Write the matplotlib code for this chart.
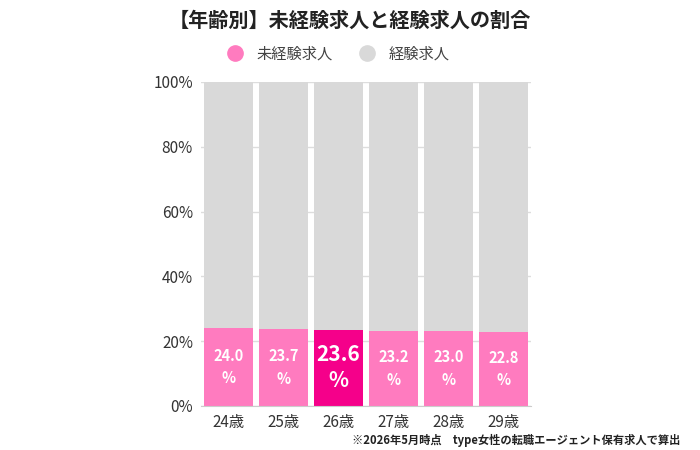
import matplotlib
matplotlib.use("Agg")
import matplotlib.pyplot as plt
from matplotlib.lines import Line2D

plt.rcParams['font.family'] = ['Noto Sans CJK JP', 'DejaVu Sans']

ages = ["24歳", "25歳", "26歳", "27歳", "28歳", "29歳"]
inexperienced = [24.0, 23.7, 23.6, 23.2, 23.0, 22.8]
experienced = [100 - v for v in inexperienced]
highlight_idx = 2
yticks = [0, 20, 40, 60, 80, 100]

pink = "#FF7BBF"
hot = "#F5008A"
gray = "#D9D9D9"

fig = plt.figure(figsize=(7, 4.5), dpi=100)
ax = fig.add_axes([201.3/700, 1 - 406/450, 329.5/700, 324/450])

x = list(range(len(ages)))
colors = [hot if i == highlight_idx else pink for i in x]
ax.bar(x, inexperienced, width=0.9, color=colors, zorder=2)
ax.bar(x, experienced, bottom=inexperienced, width=0.9, color=gray, zorder=2)

for i, v in enumerate(inexperienced):
    if i == highlight_idx:
        ax.text(i, v / 2, f"{v:.1f}\n%", ha="center", va="center", color="white",
                fontsize=15, fontweight="bold", linespacing=1.3, zorder=3)
    else:
        ax.text(i, v / 2, f"{v:.1f}\n%", ha="center", va="center", color="white",
                fontsize=10.5, fontweight="bold", linespacing=1.5, zorder=3)

ax.set_xlim(-0.5, len(ages) - 0.5)
ax.set_ylim(0, 100)
ax.set_yticks(yticks)
ax.set_yticklabels([f"{t}%" for t in yticks], fontsize=11, color="#333333")
ax.set_xticks(x)
ax.set_xticklabels(ages, fontsize=11, color="#333333")
ax.tick_params(length=0, pad=6)
ax.yaxis.grid(True, color="#DDDDDD", linewidth=1, zorder=0)
for s in ax.spines.values():
    s.set_visible(False)
ax.spines['bottom'].set_visible(True)
ax.spines['bottom'].set_color("#CCCCCC")

fig.text(0.5, 1 - 20/450, "【年齢別】未経験求人と経験求人の割合", ha="center", va="center",
         fontsize=14.5, fontweight="bold", color="#222222")

handles = [Line2D([], [], marker="o", linestyle="", markersize=11, color=pink),
           Line2D([], [], marker="o", linestyle="", markersize=11, color=gray)]
fig.legend(handles, ["未経験求人", "経験求人"], loc="center", bbox_to_anchor=(0.478, 1 - 54/450),
           ncol=2, frameon=False, fontsize=11, handletextpad=0.4, columnspacing=1.3,
           labelcolor="#444444")

fig.text(680/700, 1 - 440/450, "※2026年5月時点　type女性の転職エージェント保有求人で算出",
         ha="right", va="center", fontsize=8.1, fontweight="bold", color="#222222")

fig.savefig("out.png", dpi=100, facecolor="white")
